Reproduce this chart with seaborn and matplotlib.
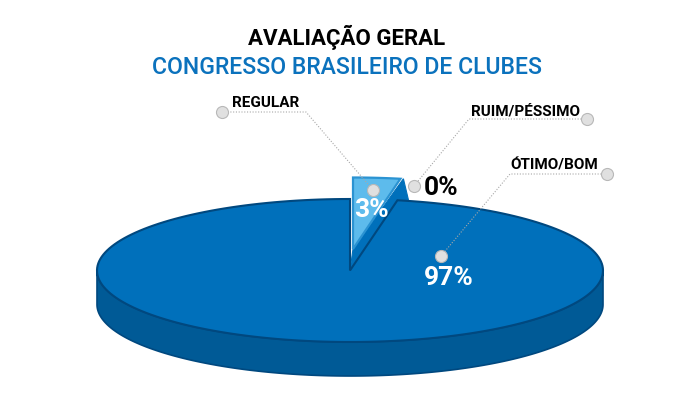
import matplotlib
matplotlib.use('Agg')
import matplotlib.pyplot as plt
from matplotlib.patches import Polygon
import numpy as np
import pandas as pd
import seaborn as sns

categories = ['ÓTIMO/BOM', 'REGULAR', 'RUIM/PÉSSIMO']
shares = [97, 3, 0]
share_labels = ['97%', '3%', '0%']
title = 'AVALIAÇÃO GERAL'
subtitle = 'CONGRESSO BRASILEIRO DE CLUBES'

sns.set_theme(style = 'white')
plt.rcParams['font.family'] = ['Roboto', 'DejaVu Sans']

fig = plt.figure(figsize = (7, 4.05), dpi = 100)
ax = fig.add_axes([0, 0, 1, 1])
ax.set(xlim = (0, 700), ylim = (405, 0))
ax.axis('off')

cx, cy, rx, ry, depth = 350, 270.5, 253, 71.5, 34


def arc(theta_from, theta_to, x0 = cx, y0 = cy):
    # angles in degrees, clockwise from the top of the ellipse
    t = np.radians(np.linspace(theta_from, theta_to, 200))
    return np.column_stack([x0 + rx * np.sin(t), y0 - ry * np.cos(t)])


slice_angle = shares[1] / sum(shares) * 360

# side of the disc
front = arc(90, 270)
side = np.vstack([front, (front + [0, depth])[::-1]])
ax.add_patch(Polygon(side, fc = '#005A96', ec = '#00487F', lw = 1.2, zorder = 1))

# pulled out slice
ax_apex = np.array([353, 249])
top_arc = arc(0, slice_angle, *ax_apex)
tip = top_arc[-1]
wedge_side = np.vstack([ax_apex, tip + [3, 0], tip + [8, 21], [cx, cy]])
ax.add_patch(Polygon(wedge_side, fc = '#0070BB', ec = '#0070BB', lw = 0.8, zorder = 2))
ax.add_patch(Polygon(np.vstack([ax_apex, top_arc]), fc = '#5DBBEC', ec = '#2B93D2', lw = 1.6,
                     joinstyle = 'miter', zorder = 3))

# top of the disc
top = np.vstack([[cx, cy], arc(slice_angle, 360)])
ax.add_patch(Polygon(top, fc = '#0070BB', ec = '#00487F', lw = 1.5, joinstyle = 'miter', zorder = 4))

# leaders
leaders = pd.DataFrame({
    'name': ['REGULAR'] * 3 + ['RUIM/PÉSSIMO'] * 3 + ['ÓTIMO/BOM'] * 3,
    'x': [222, 306, 373, 587, 469, 414, 607, 510, 441],
    'y': [112, 112, 190, 119, 119, 186, 174, 174, 256],
})
for name, part in leaders.groupby('name'):
    sns.lineplot(x = 'x', y = 'y', data = part, sort = False, estimator = None, ax = ax,
                 color = '#A8A8A8', lw = 0.8, ls = (0, (1, 1.5)), zorder = 5)
dots = leaders.groupby('name').nth([0, 2])
sns.scatterplot(x = 'x', y = 'y', data = dots, ax = ax, s = 75, color = '#E0E0E0',
                edgecolor = '#B8B8B8', linewidth = 0.8, zorder = 6, legend = False)
ax.set(xlim = (0, 700), ylim = (405, 0))

ax.text(347, 45, title, ha = 'center', va = 'baseline', fontsize = 16, fontweight = 'bold', color = 'black', zorder = 7)
ax.text(347, 74, subtitle, ha = 'center', va = 'baseline', fontsize = 16.6, fontweight = 'medium', color = '#0B72BD', zorder = 7)

ax.text(266, 107, categories[1], ha = 'center', va = 'baseline', fontsize = 11, fontweight = 'bold', color = 'black', zorder = 7)
ax.text(525, 115, categories[2], ha = 'center', va = 'baseline', fontsize = 11, fontweight = 'bold', color = 'black', zorder = 7)
ax.text(554, 170, categories[0], ha = 'center', va = 'baseline', fontsize = 11, fontweight = 'bold', color = 'black', zorder = 7)

ax.text(449, 285, share_labels[0], ha = 'center', va = 'baseline', fontsize = 19, fontweight = 'bold', color = 'white', zorder = 7)
ax.text(371, 217, share_labels[1], ha = 'center', va = 'baseline', fontsize = 19, fontweight = 'bold', color = 'white', zorder = 7)
ax.text(441, 195, share_labels[2], ha = 'center', va = 'baseline', fontsize = 19, fontweight = 'bold', color = 'black', zorder = 7)

fig.savefig('out.png', dpi = 100)
plt.close(fig)
